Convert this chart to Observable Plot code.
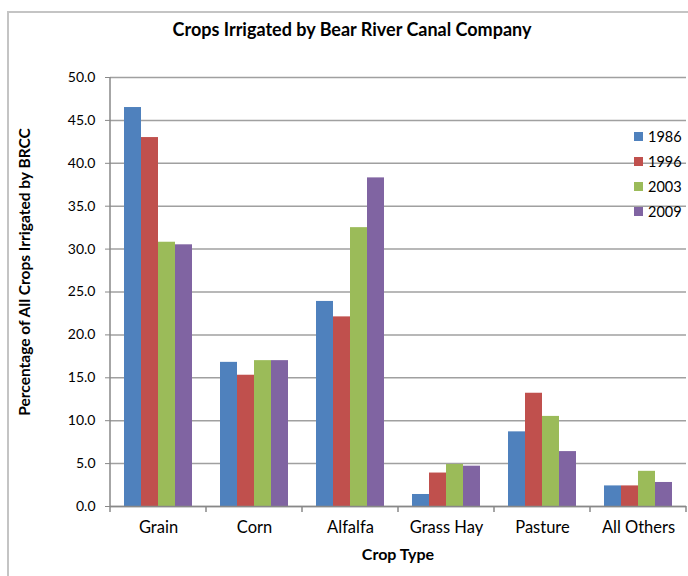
<!DOCTYPE html>
<html>
<head>
<meta charset="utf-8">
<script src="https://cdn.jsdelivr.net/npm/d3@7"></script>
<script src="https://cdn.jsdelivr.net/npm/@observablehq/plot@0.6"></script>
<style>
  html, body { margin: 0; padding: 0; background: #fff; }
  #wrap { position: relative; width: 688px; height: 576px; overflow: hidden; font-family: Lato, "Open Sans", sans-serif; color: #000; }
  #frame { position: absolute; left: 7px; top: 11px; width: 760px; height: 640px; border-left: 2px solid #c4c4c4; border-top: 2px solid #c4c4c4; }
  #title { position: absolute; left: 0; width: 704px; top: 18px; text-align: center; font-weight: bold; font-size: 18px; }
  #ylabel { position: absolute; left: 24px; top: 272px; transform: translate(-50%, -50%) rotate(-90deg); white-space: nowrap; font-weight: bold; font-size: 15.5px; }
  #xlabel { position: absolute; left: 398px; top: 553px; transform: translate(-50%, -50%); white-space: nowrap; font-weight: bold; font-size: 16px; }
  #legend { position: absolute; left: 634px; top: 124px; font-size: 14.5px; }
  #legend .item { height: 25px; display: flex; align-items: center; }
  #legend .sw { width: 9px; height: 9px; margin-right: 5px; }
  svg { position: absolute; left: 0; top: 0; }
</style>
</head>
<body>
<div id="wrap">
  <div id="frame"></div>
  <div id="chart"></div>
  <div id="title"></div>
  <div id="ylabel"></div>
  <div id="xlabel"></div>
  <div id="legend"></div>
</div>
<script>
const titleText = "Crops Irrigated by Bear River Canal Company";
const yLabelText = "Percentage of All Crops Irrigated by BRCC";
const xLabelText = "Crop Type";
const categories = ["Grain", "Corn", "Alfalfa", "Grass Hay", "Pasture", "All Others"];
const years = ["1986", "1996", "2003", "2009"];
const v1986 = [46.5, 16.8, 23.9, 1.4, 8.7, 2.4];
const v1996 = [43.0, 15.3, 22.1, 3.9, 13.2, 2.4];
const v2003 = [30.8, 17.0, 32.5, 4.9, 10.5, 4.1];
const v2009 = [30.5, 17.0, 38.3, 4.7, 6.4, 2.8];
const colors = ["#4F81BD", "#C0504D", "#9BBB59", "#8064A2"];
const yTicks = [0, 5, 10, 15, 20, 25, 30, 35, 40, 45, 50];

const series = [v1986, v1996, v2003, v2009];
const data = [];
categories.forEach((c, i) => {
  years.forEach((yr, j) => data.push({crop: c, year: yr, value: series[j][i]}));
});

const chart = Plot.plot({
  width: 688,
  height: 576,
  marginTop: 77,
  marginBottom: 70,
  marginLeft: 108,
  marginRight: 0,
  style: {fontFamily: "Lato, 'Open Sans', sans-serif", fontSize: "14px", color: "#000", background: "transparent"},
  fx: {domain: categories, padding: 0, label: null},
  x: {domain: years, paddingInner: 0, paddingOuter: 0.77, axis: null},
  y: {domain: [0, 50], label: null},
  color: {domain: years, range: colors},
  marks: [
    Plot.gridY(yTicks, {stroke: "#a0a0a0", strokeOpacity: 1, strokeWidth: 1.5}),
    Plot.barY(data, {fx: "crop", x: "year", y: "value", fill: "year"}),
    Plot.axisY({ticks: yTicks, tickFormat: d => d.toFixed(1), tickSize: 5, tickPadding: 10, stroke: "#888", label: null, fontSize: 14}),
    Plot.axisFx({anchor: "bottom", tickSize: 0, tickPadding: 15, label: null, fontSize: 16.5}),
    Plot.ruleY([0], {stroke: "#888", strokeWidth: 1.5})
  ]
});

document.getElementById("chart").appendChild(chart);

// y axis line and category separator ticks, positioned with the plot's own scales
const fx = chart.scale("fx");
const ys = chart.scale("y");
const svg = d3.select(chart);
const y0 = ys.apply(0), y50 = ys.apply(50);
const xLeft = fx.apply(categories[0]);
svg.append("line").attr("x1", xLeft).attr("x2", xLeft).attr("y1", y50).attr("y2", y0 + 6)
  .attr("stroke", "#888").attr("stroke-width", 1.5);
categories.forEach(c => {
  const xb = fx.apply(c) + fx.step;
  svg.append("line").attr("x1", xb).attr("x2", xb).attr("y1", y0).attr("y2", y0 + 6)
    .attr("stroke", "#888").attr("stroke-width", 1.5);
});

document.getElementById("title").textContent = titleText;
document.getElementById("ylabel").textContent = yLabelText;
document.getElementById("xlabel").textContent = xLabelText;
const legend = document.getElementById("legend");
years.forEach((yr, j) => {
  const item = document.createElement("div");
  item.className = "item";
  const sw = document.createElement("div");
  sw.className = "sw";
  sw.style.background = colors[j];
  const lab = document.createElement("span");
  lab.textContent = yr;
  item.appendChild(sw);
  item.appendChild(lab);
  legend.appendChild(item);
});
</script>
</body>
</html>
